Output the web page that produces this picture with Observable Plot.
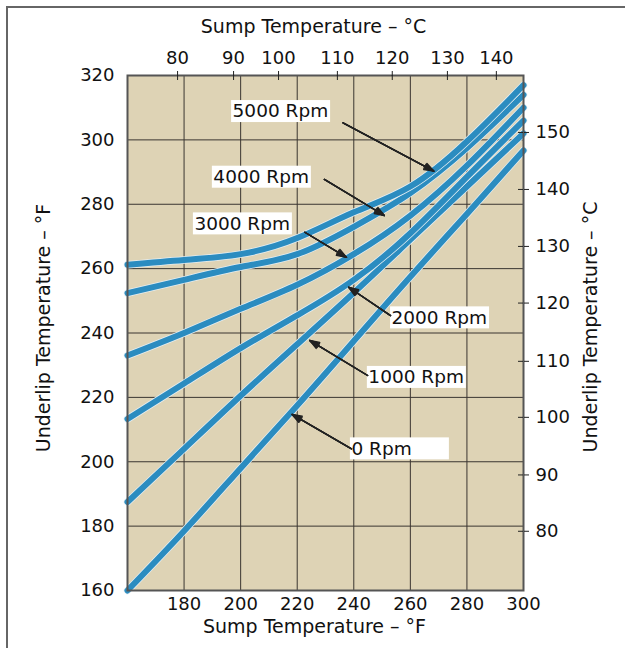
<!DOCTYPE html>
<html><head><meta charset="utf-8">
<script src="https://cdn.jsdelivr.net/npm/d3@7"></script>
<script src="https://cdn.jsdelivr.net/npm/@observablehq/plot@0.6"></script>
<style>
body{margin:0;background:#fff;}
#wrap{position:relative;width:625px;height:648px;overflow:hidden;}
#border{position:absolute;left:6px;top:6px;right:-10px;bottom:-10px;border-top:2px solid #666;border-left:2px solid #666;pointer-events:none;}
#wrap svg{position:absolute;left:0;top:0;}
</style>
</head><body><div id="wrap"><div id="border"></div></div>
<script>
// Sump temperature (°F) sample points shared by all curves
const sumpF = [160, 180, 200, 220, 240, 260, 280, 300];
// Underlip temperature (°F) per shaft speed
const rpm0    = [160, 178.5, 198, 217.5, 237.5, 257.5, 277, 296.7];
const rpm1000 = [187.5, 204, 220.5, 236.5, 252.5, 269, 285.5, 302];
const rpm2000 = [213.3, 224.3, 235.3, 245.5, 256.5, 271, 288.5, 306];
const rpm3000 = [233, 240, 247.5, 255, 264.5, 276.5, 292, 310];
const rpm4000 = [252.4, 256.5, 260.5, 264.5, 273, 283.5, 297.5, 314];
const rpm5000 = [261.2, 262.7, 264.5, 269.5, 277.5, 285.5, 299.5, 317];
const seriesNames = ["0 Rpm", "1000 Rpm", "2000 Rpm", "3000 Rpm", "4000 Rpm", "5000 Rpm"];
const seriesValues = [rpm0, rpm1000, rpm2000, rpm3000, rpm4000, rpm5000];

// Axis ticks
const bottomTicksF = [180, 200, 220, 240, 260, 280, 300];
const leftTicksF = [160, 180, 200, 220, 240, 260, 280, 300, 320];
const gridXF = [180, 200, 220, 240, 260, 280];
const gridYF = [180, 200, 220, 240, 260, 280, 300];
const topTicksC = [80, 90, 100, 110, 120, 130, 140];
const topTicksAtF = [177.7, 197.5, 213.4, 234.2, 253.6, 273.1, 290.4];
const rightTicksC = [80, 90, 100, 110, 120, 130, 140, 150];
const rightTicksAtF = [178.4, 195.9, 213.8, 231.2, 249.3, 266.9, 284.6, 302.3];

// Callout labels (box left edge x, centre y, in °F units) and arrows
const labelText = ["5000 Rpm", "4000 Rpm", "3000 Rpm", "2000 Rpm", "1000 Rpm", "0 Rpm"];
const labelX = [196.8, 190.0, 183.3, 253.0, 244.8, 238.8];
const labelY = [308.8, 288.4, 273.9, 244.7, 226.2, 204.0];
const arrowX1 = [236.2, 229.6, 222.7, 253.0, 244.9, 239.2];
const arrowY1 = [305.3, 287.7, 271.3, 245.4, 226.8, 204.0];
const arrowX2 = [268.3, 250.8, 237.4, 238.2, 224.4, 218.2];
const arrowY2 = [290.3, 276.5, 263.5, 254.2, 237.7, 214.7];

const xDomain = [160, 300], yDomain = [160, 320];
const W = 625, H = 648, mL = 127, mR = 102, mT = 75, mB = 58;
const pxX = (W - mL - mR) / (xDomain[1] - xDomain[0]);
const pxY = (H - mT - mB) / (yDomain[1] - yDomain[0]);
const boxW = 99 / pxX, boxH = 22 / pxY;

const rows = seriesNames.flatMap((name, k) => sumpF.map((x, i) => ({rpm: name, x, y: seriesValues[k][i]})));
const labels = labelText.map((t, i) => ({t, x: labelX[i], y: labelY[i]}));
const arrows = arrowX1.map((d, i) => ({x1: d, y1: arrowY1[i], x2: arrowX2[i], y2: arrowY2[i]}));
const topMap = new Map(topTicksAtF.map((d, i) => [d, topTicksC[i]]));
const rightMap = new Map(rightTicksAtF.map((d, i) => [d, rightTicksC[i]]));

const blue = "#2b8cc0";
const lineMarks = seriesNames.flatMap(name => {
  const data = rows.filter(r => r.rpm === name);
  return [
    Plot.line(data, {x: "x", y: "y", stroke: "#e4eef3", strokeWidth: 7.5, curve: "natural"}),
    Plot.line(data, {x: "x", y: "y", stroke: blue, strokeWidth: 6, curve: "natural"})
  ];
});

// arrow shafts plus stacked heads of decreasing angle to give a solid arrowhead
const arrowMarks = [40, 30, 20, 10].map(a =>
  Plot.arrow(arrows, {x1: "x1", y1: "y1", x2: "x2", y2: "y2", stroke: "#222", strokeWidth: 1.4, headLength: 11, headAngle: a})
);

const title = (t, o) => Plot.text([t], {text: d => d, fontSize: 19, fill: "#111", lineAnchor: "middle", textAnchor: "middle", ...o});

const chart = Plot.plot({
  width: W, height: H,
  marginLeft: mL, marginRight: mR, marginTop: mT, marginBottom: mB,
  x: {domain: xDomain},
  y: {domain: yDomain},
  style: {fontFamily: "DejaVu Sans, sans-serif", fontSize: "18px", color: "#111", background: "transparent"},
  marks: [
    Plot.frame({fill: "#ded3b5"}),
    Plot.ruleX(gridXF, {stroke: "#3a3530", strokeWidth: 1}),
    Plot.ruleY(gridYF, {stroke: "#3a3530", strokeWidth: 1}),
    ...lineMarks,
    Plot.rect(labels, {x1: "x", x2: d => d.x + boxW, y1: d => d.y - boxH / 2, y2: d => d.y + boxH / 2, fill: "white"}),
    Plot.text(labels, {x: "x", y: "y", text: "t", textAnchor: "start", dx: 1, fontSize: 18.5, fill: "#111"}),
    ...arrowMarks,
    Plot.frame({stroke: "#555", strokeWidth: 2}),
    Plot.axisX(bottomTicksF, {anchor: "bottom", tickSize: 0, tickPadding: 7, label: null}),
    Plot.axisY(leftTicksF, {anchor: "left", tickSize: 0, tickPadding: 13, label: null}),
    Plot.axisX(topTicksAtF, {anchor: "top", tickSize: 5, tickPadding: 7, tickFormat: d => topMap.get(d), label: null, stroke: "#222"}),
    Plot.ruleX(topTicksAtF, {y1: yDomain[1] - 5 / pxY, y2: yDomain[1], stroke: "#222"}),
    Plot.axisY(rightTicksAtF, {anchor: "right", tickSize: 5, tickPadding: 7, tickFormat: d => rightMap.get(d), label: null, stroke: "#222"}),
    Plot.ruleY(rightTicksAtF, {x1: xDomain[1] - 5 / pxX, x2: xDomain[1], stroke: "#222"}),
    title("Sump Temperature – °F", {frameAnchor: "bottom", dy: 36, dx: -11}),
    title("Sump Temperature – °C", {frameAnchor: "top", dy: -49, dx: -12}),
    title("Underlip Temperature – °F", {frameAnchor: "left", dx: -84, dy: -5, rotate: -90}),
    title("Underlip Temperature – °C", {frameAnchor: "right", dx: 67, dy: -6, rotate: -90})
  ]
});
document.getElementById("wrap").appendChild(chart);
</script>
</body></html>
